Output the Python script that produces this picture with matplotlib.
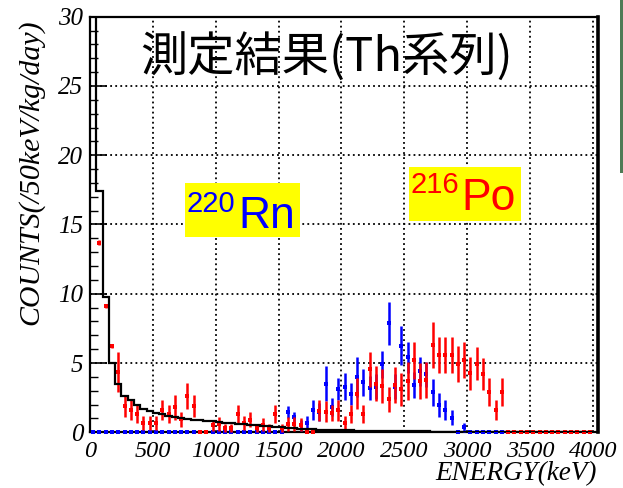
import numpy as np
import matplotlib
matplotlib.use("Agg")
import matplotlib.pyplot as plt
from matplotlib.patches import Rectangle
from matplotlib.ticker import MultipleLocator, FixedLocator

# ---------------- data (50 keV bins, 0-4000 keV) ----------------
bin_edges = np.arange(0, 4050, 50)
bin_centers = np.arange(25, 4000, 50)

# black histogram (fit / expectation)
black_counts = [35, 17.4, 9.8, 5.0, 3.5, 2.65, 2.3, 1.95, 1.7, 1.52,
                1.4, 1.3, 1.2, 1.12, 1.05, 0.98, 0.92, 0.87, 0.82, 0.78,
                0.74, 0.7, 0.66, 0.62, 0.58, 0.54, 0.5, 0.46, 0.42, 0.38,
                0.35, 0.32, 0.29, 0.26, 0.24, 0.22, 0.2, 0.18, 0.16, 0.15,
                0.14, 0.13, 0.12, 0.11, 0.1, 0.1, 0.09, 0.09, 0.08, 0.08,
                0.07, 0.07, 0.06, 0.06, 0.05, 0.05, 0.04, 0.03] + [0] * 22

# 216Po (red)
po216_counts = [np.nan, 13.7, 9.1, 6.2, 4.35, 1.9, 1.6, 1.3, 0.65, 0.65,
                0.65, 1.6, 1.3, 1.8, 0.95, 2.6, 1.9, 0, 0, 0.5,
                0.6, 0.3, 0.3, 1.3, 0.65, 0.9, 0.3, 0.55, 0.3, 1.3,
                0.3, 0.6, 0.6, 0.55, 0, 0, 1.55, 1.5, 1.4, 1.6,
                0.65, 1.35, 2.8, 1.3, 4.55, 3.5, 3.35, 2.4, 3.4, 3.1,
                3.7, 5.2, 3.7, 3.8, 6.3, 5.6, 5.6, 5.6, 4.9, 5.2,
                4.25, 4.95, 4.2, 2.9, 1.6, 2.9] + [0] * 14
po216_err = [0, 0.15, 0.15, 0.15, 1.42, 0.8, 0.7, 0.65, 0.5, 0.5,
             0.5, 0.7, 0.65, 0.9, 0.55, 0.95, 0.8, 0, 0, 0.4,
             0.5, 0.3, 0.3, 0.65, 0.5, 0.55, 0.3, 0.45, 0.3, 0.65,
             0.3, 0.5, 0.5, 0.45, 0, 0, 0.75, 0.75, 0.6, 0.75,
             0.5, 0.65, 1.1, 0.65, 1.25, 1.25, 1.25, 0.9, 1.3, 1.2,
             1.35, 1.35, 1.3, 1.3, 1.65, 1.3, 1.3, 1.3, 1.3, 1.3,
             1.2, 1.2, 1.15, 1.0, 0.7, 1.0] + [0] * 14

# 220Rn (blue)
rn220_counts = [0] * 31 + [1.45, 1.1, 0.5, 0.65, 1.6, 1.5, 3.5, 1.8, 3.1, 3.3,
                           2.75, 4.0, 3.6, 3.2, 3.3, 4.9, 7.87, 3.3, 6.25, 5.4,
                           3.4, 4.4, 4.2, 2.9, 1.97, 1.6, 1.05, 0, 0.35] + [0] * 20
rn220_err = [0] * 31 + [0.45, 0.4, 0.4, 0.5, 0.7, 0.65, 1.26, 0.65, 0.8, 0.97,
                        0.78, 1.45, 1.0, 0.9, 0.9, 1.0, 1.57, 0.9, 1.4, 1.15,
                        0.95, 1.06, 0.9, 0.97, 0.84, 0.72, 0.55, 0, 0.3] + [0] * 20

x_ticks = [0, 500, 1000, 1500, 2000, 2500, 3000, 3500, 4000]
y_ticks = [0, 5, 10, 15, 20, 25, 30]

# ---------------- figure ----------------
plt.rcParams['font.family'] = ['Liberation Serif', 'DejaVu Serif']
plt.rcParams['font.style'] = 'italic'

W, H = 623, 488
fig = plt.figure(figsize=(W / 100, H / 100), dpi=100)
ax = fig.add_axes([90 / W, (H - 432.3) / H, (598 - 90) / W, (432.3 - 16.7) / H])
ax.set_xlim(0, 4040)
ax.set_ylim(0, 30)

ax.errorbar(bin_centers, rn220_counts, yerr=rn220_err, fmt='s', ms=2.2,
            color='#0000FF', ecolor='#0000FF', elinewidth=1.8, capsize=0,
            mew=0, zorder=3, clip_on=False)
ax.errorbar(bin_centers, po216_counts, yerr=po216_err, fmt='s', ms=2.2,
            color='#FF0000', ecolor='#FF0000', elinewidth=1.8, capsize=0,
            mew=0, zorder=3.5, clip_on=False)
ax.stairs(black_counts, bin_edges, baseline=None, color='black', lw=1.6, zorder=4)

ax.xaxis.set_major_locator(FixedLocator(x_ticks))
ax.yaxis.set_major_locator(FixedLocator(y_ticks))
ax.yaxis.set_minor_locator(MultipleLocator(1))
ax.tick_params(axis='y', which='major', direction='in', length=12, width=1.2,
               labelsize=18, pad=5, left=True, right=False)
ax.tick_params(axis='y', which='minor', direction='in', length=6, width=1.0,
               left=True, right=False)
ax.tick_params(axis='x', which='major', length=0, labelsize=17.5, pad=6)

ax.grid(True, which='major', color='black', linestyle=(0, (1, 1.8)), lw=1.3, zorder=1)
ax.set_axisbelow(True)
for side in ['left', 'bottom', 'top']:
    ax.spines[side].set_linewidth(1.6)
ax.spines['right'].set_linewidth(2.6)

# axis titles
fig.text(597 / W, (H - 480) / H, 'ENERGY(keV)', ha='right', va='baseline',
         fontsize=19.5, family='Liberation Serif', style='italic')
fig.text(31 / W, 1 - 19 / H, 'COUNTS(/50keV/kg/day)', ha='center', va='top',
         rotation=90, fontsize=21.5, family='Liberation Serif', style='italic')

# title inside plot
fig.text(327 / W, 1 - 58 / H, '測定結果(Th系列)', ha='center', va='center',
         fontsize=34, family=['Noto Sans CJK JP', 'DejaVu Sans'], style='normal',
         color='black')

# 220Rn label
fig.patches.append(Rectangle((185 / W, 1 - 237 / H), 115 / W, 54 / H,
                             transform=fig.transFigure, facecolor='#FFFF00',
                             edgecolor='none', zorder=5))
fig.text(186 / W, 1 - 212 / H, '220', ha='left', va='baseline', fontsize=21,
         family='Liberation Sans', style='normal', color='#0000FF', zorder=6)
fig.text(238 / W, 1 - 228 / H, 'Rn', ha='left', va='baseline', fontsize=32,
         family='Liberation Sans', style='normal', color='#0000FF', zorder=6)

# 216Po label
fig.patches.append(Rectangle((409 / W, 1 - 221 / H), 112 / W, 54 / H,
                             transform=fig.transFigure, facecolor='#FFFF00',
                             edgecolor='none', zorder=5))
fig.text(410 / W, 1 - 193 / H, '216', ha='left', va='baseline', fontsize=21,
         family='Liberation Sans', style='normal', color='#FF0000', zorder=6)
fig.text(461 / W, 1 - 210 / H, 'Po', ha='left', va='baseline', fontsize=32,
         family='Liberation Sans', style='normal', color='#FF0000', zorder=6)

# edge of neighbouring picture on the right
fig.patches.append(Rectangle((620 / W, 1 - 173 / H), 3 / W, 173 / H,
                             transform=fig.transFigure, facecolor='#4f7a55',
                             edgecolor='none'))

fig.savefig('out.png', dpi=100)
